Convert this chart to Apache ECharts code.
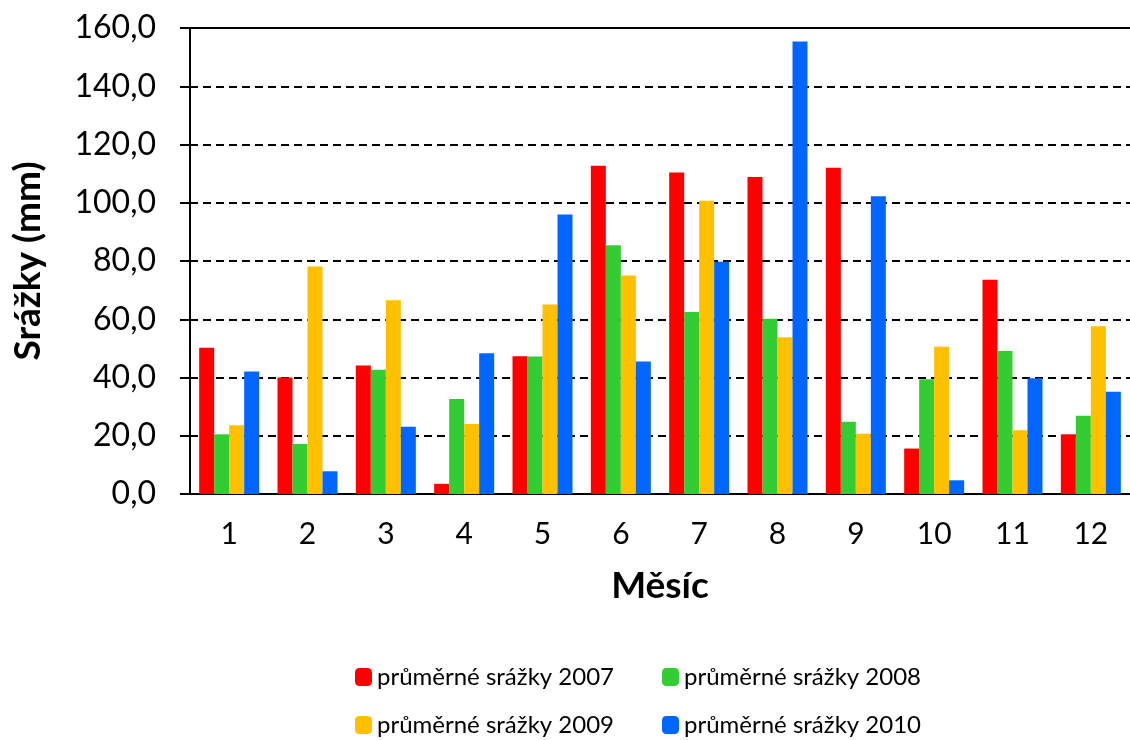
<!DOCTYPE html>
<html>
<head>
<meta charset="utf-8">
<script src="https://cdn.jsdelivr.net/npm/echarts@6/dist/echarts.min.js"></script>
<style>
  html, body { margin: 0; padding: 0; background: #fff; }
  #chart { width: 1130px; height: 740px; }
</style>
</head>
<body>
<div id="chart"></div>
<script>
// Monthly average precipitation (mm), 2007–2010
const months = ['1', '2', '3', '4', '5', '6', '7', '8', '9', '10', '11', '12'];
const rain2007 = [50.2, 40.0, 44.1, 3.5, 47.3, 112.7, 110.4, 108.8, 112.0, 15.6, 73.6, 20.5];
const rain2008 = [20.5, 17.2, 42.7, 32.6, 47.2, 85.4, 62.5, 60.2, 24.8, 39.4, 49.1, 26.9];
const rain2009 = [23.6, 78.1, 66.5, 24.0, 65.1, 75.0, 100.7, 53.8, 20.7, 50.6, 21.9, 57.6];
const rain2010 = [42.1, 7.8, 23.1, 48.3, 96.0, 45.5, 79.7, 155.4, 102.2, 4.7, 39.7, 35.1];
const seriesNames = ['průměrné srážky 2007', 'průměrné srážky 2008', 'průměrné srážky 2009', 'průměrné srážky 2010'];
const seriesColors = ['#FF0000', '#33CC33', '#FFC000', '#0066FF'];
const yMin = 0, yMax = 160, yStep = 20;

const FONT = 'Lato, "Open Sans", sans-serif';
const chart = echarts.init(document.getElementById('chart'), null, { renderer: 'canvas' });

const values = [rain2007, rain2008, rain2009, rain2010];
const series = values.map((data, i) => ({
  name: seriesNames[i],
  type: 'bar',
  data: data,
  barWidth: 15,
  barGap: '0%',
  itemStyle: { color: seriesColors[i] }
}));

// Legend laid out as a 2×2 block
const legendPos = [
  { left: 350, top: 660 },
  { left: 657, top: 660 },
  { left: 350, top: 708 },
  { left: 657, top: 708 }
];
const legends = seriesNames.map((n, i) => ({
  data: [n],
  left: legendPos[i].left,
  top: legendPos[i].top,
  orient: 'horizontal',
  itemWidth: 17,
  itemHeight: 18,
  itemGap: 0,
  icon: 'roundRect',
  selectedMode: false,
  textStyle: { fontFamily: FONT, fontSize: 24, color: '#000' }
}));

chart.setOption({
  animation: false,
  backgroundColor: '#fff',
  grid: { left: 190, top: 28, right: -6, bottom: 246 },
  legend: legends,
  xAxis: [{
    type: 'category',
    data: months,
    name: 'Měsíc',
    nameLocation: 'middle',
    nameGap: 74,
    nameTextStyle: { fontFamily: FONT, fontSize: 37, fontWeight: 'bold', color: '#000' },
    axisLine: { lineStyle: { color: '#000', width: 2 } },
    axisTick: { show: false },
    axisLabel: { fontFamily: FONT, fontSize: 30, color: '#000', margin: 25 }
  }, {
    type: 'category',
    data: months,
    position: 'top',
    axisLine: { show: true, lineStyle: { color: '#000', width: 2 } },
    axisTick: { show: false },
    axisLabel: { show: false }
  }],
  yAxis: {
    type: 'value',
    min: yMin,
    max: yMax,
    interval: yStep,
    name: 'Srážky (mm)',
    nameLocation: 'middle',
    nameGap: 143,
    nameTextStyle: { fontFamily: FONT, fontSize: 37, fontWeight: 'bold', color: '#000' },
    axisLine: { show: true, lineStyle: { color: '#000', width: 2 } },
    axisTick: { show: true, inside: false, length: 10, lineStyle: { color: '#000', width: 2 } },
    axisLabel: {
      fontFamily: FONT, fontSize: 32, color: '#000', margin: 34,
      formatter: v => v.toFixed(1).replace('.', ',')
    },
    splitLine: { show: true, lineStyle: { color: '#000', width: 2, type: [8, 5] } }
  },
  series: series
});
</script>
</body>
</html>
